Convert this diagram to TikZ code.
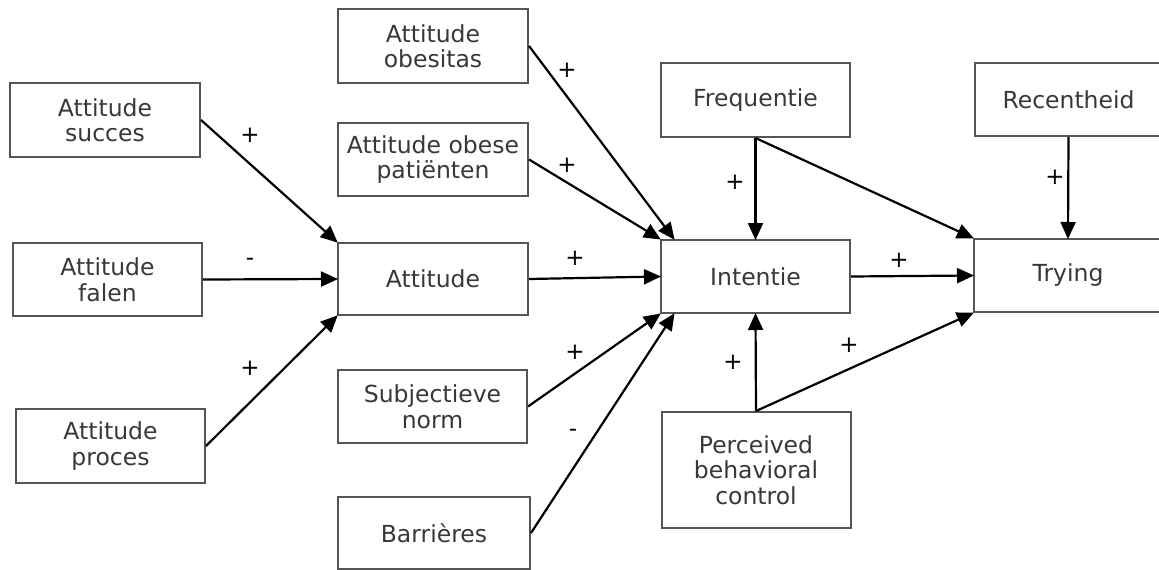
\documentclass[tikz,border=0pt]{standalone}
\usepackage{fontspec}
\setmainfont{DejaVu Sans}
\usetikzlibrary{arrows.meta,calc}
\definecolor{boxline}{HTML}{555555}
\definecolor{boxtext}{HTML}{383838}
\begin{document}
\begin{tikzpicture}[x=1pt,y=-1pt,
  box/.style={draw=boxline,line width=2pt,inner sep=0pt,align=center,
    text=boxtext,font=\fontsize{23.5}{25.5}\selectfont,
    minimum width=190pt,minimum height=74pt},
  link/.style={draw=black,line width=2.2pt,
    -{Triangle[length=17pt,width=15pt]},shorten >=-1pt},
  sign/.style={font=\fontsize{23}{23}\selectfont,text=black,inner sep=0pt}]
\clip (0,0) rectangle (1159,570);
\fill[white] (0,0) rectangle (1159,570);

% left column
\node[box] (succ)   at (105,120)   {Attitude\\succes};
\node[box,minimum width=189pt,minimum height=73pt] (falen) at (107.5,279.5) {Attitude\\falen};
\node[box,minimum width=189pt] (proces) at (110.5,446) {Attitude\\proces};

% middle column
\node[box] (obes)   at (433,46)    {Attitude\\obesitas};
\node[box,minimum height=73pt] (obese)  at (433,159.5) {Attitude obese\\patiënten};
\node[box,minimum height=72pt] (att)    at (433,279)   {Attitude};
\node[box,minimum width=189pt,minimum height=73pt] (subj) at (432.5,406.5) {Subjectieve\\norm};
\node[box,minimum width=192pt,minimum height=72pt] (barr) at (434,533) {Barrières};

% right part
\node[box,minimum width=189pt] (freq) at (755.5,100)  {Frequentie};
\node[box,minimum width=189pt,minimum height=73pt] (int) at (755.5,276.5) {Intentie};
\node[box,minimum width=189pt,minimum height=116pt] (pbc) at (756,470) {Perceived\\behavioral\\control};
\node[box,minimum width=188pt,minimum height=73pt] (rec) at (1068.5,99.5) {Recentheid};
\node[box,minimum width=188pt,minimum height=73pt] (try) at (1068,275.5) {Trying};

% connectors
\draw[link] (succ.east) -- (att.north west);
\draw[link] (falen.east) -- (att.west);
\draw[link] (proces.east) -- (att.south west);
\draw[link] (obes.east) -- ($(int.north west)+(14,0)$);
\draw[link] (obese.east) -- (int.north west);
\draw[link] (att.east) -- (int.west);
\draw[link] (subj.east) -- (int.south west);
\draw[link] (barr.east) -- ($(int.south west)+(14,0)$);
\draw[link] (freq.south) -- (int.north);
\draw[link] (freq.south) -- (try.north west);
\draw[link] (rec.south) -- (try.north);
\draw[link] (int.east) -- (try.west);
\draw[link] (pbc.north) -- (int.south);
\draw[link] (pbc.north) -- (try.south west);

% signs
\node[sign] (s1)  at (250,135) {+};
\node[sign] (s2)  at (250,262) {-};
\node[sign] (s3)  at (250,368) {+};
\node[sign] (s4)  at (567,70)  {+};
\node[sign] (s5)  at (567,165) {+};
\node[sign] (s6)  at (575,258) {+};
\node[sign] (s7)  at (575,352) {+};
\node[sign] (s8)  at (573,433) {-};
\node[sign] (s9)  at (735,182) {+};
\node[sign] (s10) at (1055,177) {+};
\node[sign] (s11) at (899,260) {+};
\node[sign] (s12) at (733,362) {+};
\node[sign] (s13) at (849,345) {+};
\end{tikzpicture}
\end{document}
